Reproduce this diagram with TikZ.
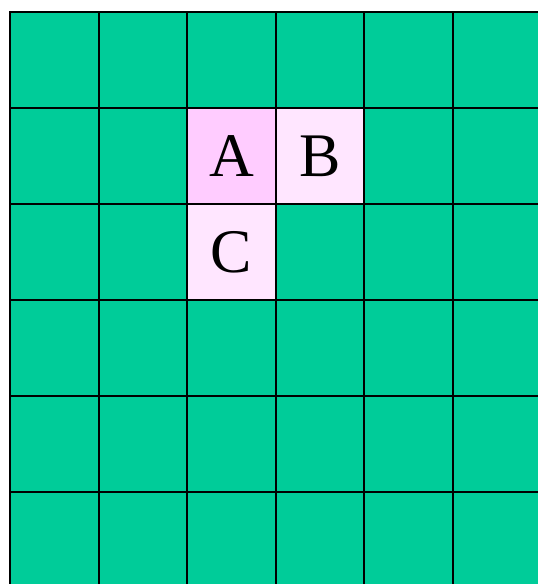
\documentclass[tikz,border=0pt]{standalone}
\usepackage{fontspec}
\setmainfont{Liberation Serif}
\definecolor{gridgreen}{HTML}{00CC99}
\definecolor{pinkA}{HTML}{FFCCFF}
\definecolor{pinkB}{HTML}{FFE6FF}
\begin{document}
\begin{tikzpicture}[x=1pt,y=-1pt,
  cellbox/.style={draw=black,line width=2pt},
  letter/.style={font=\fontsize{62}{62}\selectfont,text=black,inner sep=0pt}]
\useasboundingbox (0,0) rectangle (538,584);
\fill[white] (0,0) rectangle (538,584);
\begin{scope}
\clip (0,0) rectangle (538,584);
\foreach \i in {0,...,5}{
  \foreach \j in {0,...,5}{
    \filldraw[cellbox,fill=gridgreen] ({10+88.6*\i},{12+96*\j}) rectangle ++(88.6,96);
  }
}
\filldraw[cellbox,fill=pinkA] (187.2,108) rectangle (275.8,204);
\filldraw[cellbox,fill=pinkB] (275.8,108) rectangle (364.4,204);
\filldraw[cellbox,fill=pinkB] (187.2,204) rectangle (275.8,300);
\end{scope}
\node[letter] (A) at (231.5,156) {A};
\node[letter] (B) at (320.1,156) {B};
\node[letter] (C) at (231.5,252) {C};
\end{tikzpicture}
\end{document}
